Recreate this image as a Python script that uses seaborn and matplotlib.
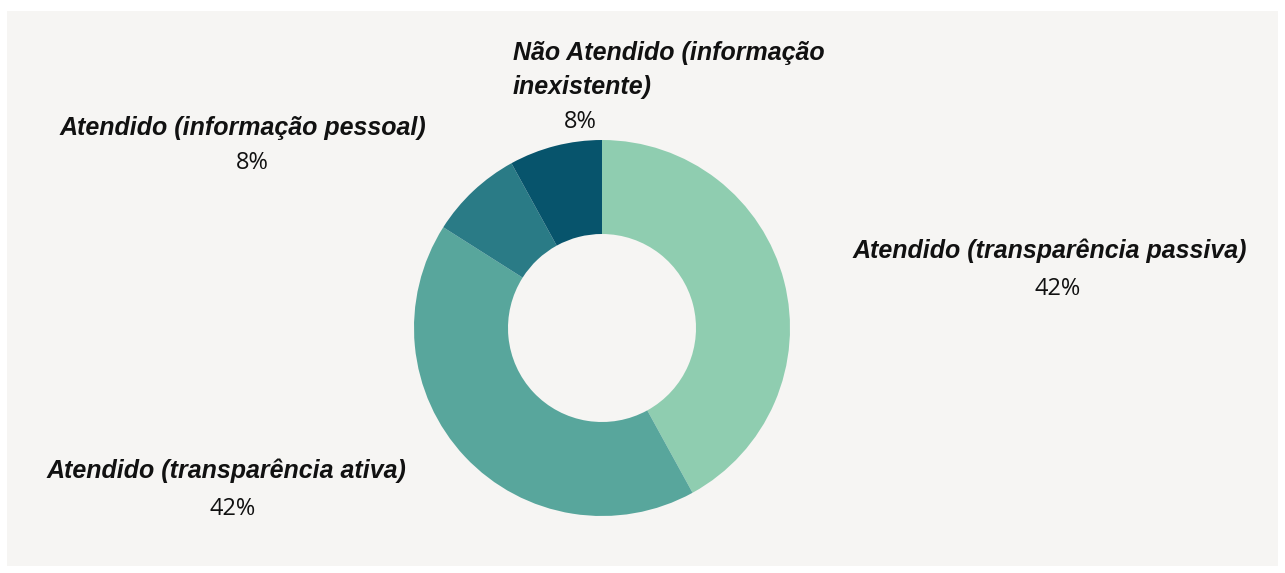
import matplotlib
matplotlib.use("Agg")
import matplotlib.pyplot as plt
import seaborn as sns
from matplotlib.patches import Rectangle

# data
categorias = [
    "Atendido (transparência passiva)",
    "Atendido (transparência ativa)",
    "Atendido (informação pessoal)",
    "Não Atendido (informação\ninexistente)",
]
percentuais = [42, 42, 8, 8]
cores = ["#8fcdb0", "#58a69c", "#2a7b86", "#07546c"]

sns.set_theme(style="white")
plt.rcParams["font.family"] = ["Liberation Sans", "DejaVu Sans"]

fig = plt.figure(figsize=(12.85, 5.73), dpi=100)
fig.patch.set_facecolor("white")

ax = fig.add_axes([0, 0, 1, 1])
ax.set_facecolor("none")
ax.axis("off")

# panel background
ax.add_patch(Rectangle((7, 7), 1271, 555, facecolor="#f6f5f3", edgecolor="none", zorder=-5))

cx, cy, r = 602, 573 - 328, 188
ax.pie(percentuais, colors=sns.color_palette(cores), startangle=90, counterclock=False,
       radius=r, center=(cx, cy), wedgeprops=dict(width=r * 0.5, linewidth=0))
ax.set_xlim(0, 1285)
ax.set_ylim(0, 573)
ax.set_aspect("equal")

# label positions (pixel coords from top)
pos_label = [(1050, 251, "center"), (226, 471, "center"), (243, 128, "center"), (513, 70, "left")]
pos_pct = [(1058, 289), (233, 509), (252, 163), (580, 122)]

for cat, p, (lx, ly, ha), (px, py) in zip(categorias, percentuais, pos_label, pos_pct):
    ax.text(lx, 573 - ly, cat, ha=ha, va="center", fontsize=18, fontweight="bold",
            fontstyle="italic", color="#111111", linespacing=1.5)
    ax.text(px, 573 - py, f"{p}%", ha="center", va="center", fontsize=17,
            family=["Open Sans", "DejaVu Sans"], color="#111111")

fig.savefig("out.png", dpi=100, facecolor=fig.get_facecolor())
